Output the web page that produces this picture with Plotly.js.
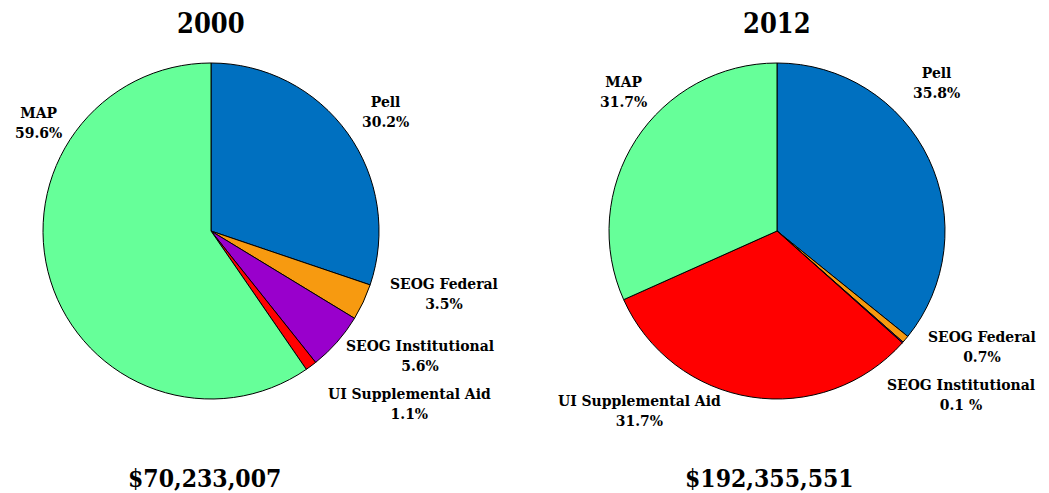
<!DOCTYPE html>
<html>
<head>
<meta charset="utf-8">
<script src="https://cdn.plot.ly/plotly-3.0.1.min.js"></script>
<style>html,body{margin:0;padding:0;background:#fff;}#chart{width:1049px;height:493px;}</style>
</head>
<body>
<div id="chart"></div>
<script>
const categories = ["Pell", "SEOG Federal", "SEOG Institutional", "UI Supplemental Aid", "MAP"];
const values2000 = [30.2, 3.5, 5.6, 1.1, 59.6];
const values2012 = [35.8, 0.7, 0.1, 31.7, 31.7];
const pctText2000 = ["30.2%", "3.5%", "5.6%", "1.1%", "59.6%"];
const pctText2012 = ["35.8%", "0.7%", "0.1 %", "31.7%", "31.7%"];
const years = ["2000", "2012"];
const totals = ["$70,233,007", "$192,355,551"];
const colors = ["#0070C0", "#F79A10", "#9900CC", "#FF0000", "#66FF99"];

const W = 1049, H = 493;
const FONT = '"DejaVu Serif Condensed", "DejaVu Serif", serif';
const px = x => x / W;
const py = y => 1 - y / H;

function pie(vals, x0, x1) {
  return {
    type: 'pie', labels: categories, values: vals, sort: false, direction: 'clockwise', rotation: 0,
    marker: {colors: colors, line: {color: '#000', width: 1}},
    textinfo: 'none', hoverinfo: 'none', showlegend: false,
    domain: {x: [px(x0), px(x1)], y: [py(399), py(63)]}
  };
}

const labelPos2000 = [[385, 111], [444, 293], [420, 355], [409, 403], [38, 123]];
const labelPos2012 = [[936, 83], [982, 346], [961, 394], [639, 410], [623, 92]];

const annotations = [];
function addLabels(pos, pct) {
  categories.forEach((c, i) => {
    annotations.push({xref: 'paper', yref: 'paper', x: px(pos[i][0]), y: py(pos[i][1]),
      xanchor: 'center', yanchor: 'middle', showarrow: false, align: 'center',
      text: '<b>' + c + '<br>' + pct[i] + '</b>', font: {family: FONT, size: 15.5, color: '#000'}});
  });
}
addLabels(labelPos2000, pctText2000);
addLabels(labelPos2012, pctText2012);
const headX = [211, 777], totX = [204, 769];
years.forEach((y, i) => {
  annotations.push({xref: 'paper', yref: 'paper', x: px(headX[i]), y: py(23), xanchor: 'center', yanchor: 'middle',
    showarrow: false, text: '<b>' + y + '</b>', font: {family: FONT, size: 27, color: '#000'}});
  annotations.push({xref: 'paper', yref: 'paper', x: px(totX[i]), y: py(478), xanchor: 'center', yanchor: 'middle',
    showarrow: false, text: '<b>' + totals[i] + '</b>', font: {family: FONT, size: 24.5, color: '#000'}});
});

Plotly.newPlot('chart', [pie(values2000, 43, 379), pie(values2012, 609, 945)], {
  width: W, height: H, margin: {l: 0, r: 0, t: 0, b: 0},
  paper_bgcolor: '#fff', plot_bgcolor: '#fff', annotations: annotations
}, {displayModeBar: false, staticPlot: true});
</script>
</body>
</html>
